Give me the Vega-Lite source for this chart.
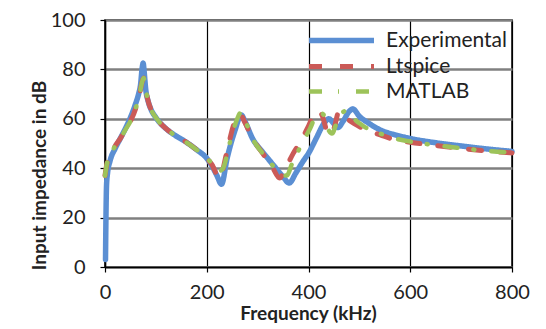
{
  "$schema": "https://vega.github.io/schema/vega-lite/v6.json",
  "width": 407,
  "height": 247,
  "autosize": {"type": "none"},
  "padding": {"left": 105, "top": 20, "right": 34, "bottom": 62},
  "background": "#ffffff",
  "config": {
    "font": "Lato",
    "view": {"stroke": "#000000", "strokeWidth": 1.5},
    "axis": {"labelFont": "Lato", "titleFont": "Lato", "labelColor": "#222222", "titleColor": "#222222"}
  },
  "data": {
    "values": [
      {"series": "Experimental", "f": 1, "v": 3}, {"series": "Experimental", "f": 2, "v": 22}, {"series": "Experimental", "f": 3, "v": 33},
      {"series": "Experimental", "f": 5, "v": 38}, {"series": "Experimental", "f": 10, "v": 43}, {"series": "Experimental", "f": 20, "v": 48},
      {"series": "Experimental", "f": 30, "v": 52}, {"series": "Experimental", "f": 40, "v": 56}, {"series": "Experimental", "f": 50, "v": 60.5},
      {"series": "Experimental", "f": 60, "v": 66}, {"series": "Experimental", "f": 66, "v": 70}, {"series": "Experimental", "f": 70, "v": 74},
      {"series": "Experimental", "f": 73, "v": 80.5}, {"series": "Experimental", "f": 75, "v": 82.5}, {"series": "Experimental", "f": 77, "v": 79},
      {"series": "Experimental", "f": 80, "v": 72}, {"series": "Experimental", "f": 85, "v": 67}, {"series": "Experimental", "f": 90, "v": 64},
      {"series": "Experimental", "f": 100, "v": 60.5}, {"series": "Experimental", "f": 120, "v": 56}, {"series": "Experimental", "f": 140, "v": 53},
      {"series": "Experimental", "f": 160, "v": 50.5}, {"series": "Experimental", "f": 180, "v": 47.5}, {"series": "Experimental", "f": 200, "v": 44},
      {"series": "Experimental", "f": 210, "v": 41}, {"series": "Experimental", "f": 220, "v": 37}, {"series": "Experimental", "f": 229, "v": 33.5},
      {"series": "Experimental", "f": 240, "v": 44}, {"series": "Experimental", "f": 255, "v": 55}, {"series": "Experimental", "f": 268, "v": 61.5},
      {"series": "Experimental", "f": 275, "v": 59}, {"series": "Experimental", "f": 290, "v": 52}, {"series": "Experimental", "f": 310, "v": 46.5},
      {"series": "Experimental", "f": 330, "v": 41.5}, {"series": "Experimental", "f": 350, "v": 36.5}, {"series": "Experimental", "f": 362, "v": 34},
      {"series": "Experimental", "f": 375, "v": 38}, {"series": "Experimental", "f": 390, "v": 43}, {"series": "Experimental", "f": 400, "v": 46},
      {"series": "Experimental", "f": 415, "v": 52}, {"series": "Experimental", "f": 430, "v": 58}, {"series": "Experimental", "f": 440, "v": 60},
      {"series": "Experimental", "f": 450, "v": 58}, {"series": "Experimental", "f": 458, "v": 56.5}, {"series": "Experimental", "f": 468, "v": 59},
      {"series": "Experimental", "f": 480, "v": 63}, {"series": "Experimental", "f": 487, "v": 64}, {"series": "Experimental", "f": 500, "v": 61},
      {"series": "Experimental", "f": 520, "v": 58}, {"series": "Experimental", "f": 541, "v": 55.5}, {"series": "Experimental", "f": 570, "v": 53.5},
      {"series": "Experimental", "f": 600, "v": 52}, {"series": "Experimental", "f": 650, "v": 50.3}, {"series": "Experimental", "f": 700, "v": 49},
      {"series": "Experimental", "f": 750, "v": 47.8}, {"series": "Experimental", "f": 800, "v": 46.8},

      {"series": "Ltspice", "f": 0, "v": 37}, {"series": "Ltspice", "f": 3, "v": 41}, {"series": "Ltspice", "f": 10, "v": 45},
      {"series": "Ltspice", "f": 20, "v": 49}, {"series": "Ltspice", "f": 30, "v": 52}, {"series": "Ltspice", "f": 40, "v": 55.5},
      {"series": "Ltspice", "f": 50, "v": 59}, {"series": "Ltspice", "f": 60, "v": 64}, {"series": "Ltspice", "f": 68, "v": 70},
      {"series": "Ltspice", "f": 73, "v": 75}, {"series": "Ltspice", "f": 76, "v": 76.5}, {"series": "Ltspice", "f": 79, "v": 73},
      {"series": "Ltspice", "f": 85, "v": 67}, {"series": "Ltspice", "f": 90, "v": 64}, {"series": "Ltspice", "f": 100, "v": 60.5},
      {"series": "Ltspice", "f": 120, "v": 56}, {"series": "Ltspice", "f": 140, "v": 53}, {"series": "Ltspice", "f": 160, "v": 50.5},
      {"series": "Ltspice", "f": 180, "v": 47.5}, {"series": "Ltspice", "f": 200, "v": 44}, {"series": "Ltspice", "f": 210, "v": 41.5},
      {"series": "Ltspice", "f": 225, "v": 36}, {"series": "Ltspice", "f": 240, "v": 47}, {"series": "Ltspice", "f": 252, "v": 57},
      {"series": "Ltspice", "f": 265, "v": 62}, {"series": "Ltspice", "f": 275, "v": 58.5}, {"series": "Ltspice", "f": 290, "v": 52},
      {"series": "Ltspice", "f": 310, "v": 46}, {"series": "Ltspice", "f": 330, "v": 40}, {"series": "Ltspice", "f": 343, "v": 36},
      {"series": "Ltspice", "f": 355, "v": 40}, {"series": "Ltspice", "f": 370, "v": 46}, {"series": "Ltspice", "f": 385, "v": 51},
      {"series": "Ltspice", "f": 400, "v": 57}, {"series": "Ltspice", "f": 415, "v": 63}, {"series": "Ltspice", "f": 425, "v": 62},
      {"series": "Ltspice", "f": 440, "v": 53.5}, {"series": "Ltspice", "f": 450, "v": 56}, {"series": "Ltspice", "f": 460, "v": 63},
      {"series": "Ltspice", "f": 470, "v": 61}, {"series": "Ltspice", "f": 490, "v": 58}, {"series": "Ltspice", "f": 520, "v": 55},
      {"series": "Ltspice", "f": 541, "v": 53.5}, {"series": "Ltspice", "f": 570, "v": 51.5}, {"series": "Ltspice", "f": 600, "v": 50.5},
      {"series": "Ltspice", "f": 650, "v": 49.2}, {"series": "Ltspice", "f": 700, "v": 48}, {"series": "Ltspice", "f": 750, "v": 47},
      {"series": "Ltspice", "f": 800, "v": 46.2},

      {"series": "MATLAB", "f": 0, "v": 37}, {"series": "MATLAB", "f": 3, "v": 41}, {"series": "MATLAB", "f": 10, "v": 45},
      {"series": "MATLAB", "f": 20, "v": 49}, {"series": "MATLAB", "f": 30, "v": 52}, {"series": "MATLAB", "f": 40, "v": 55.5},
      {"series": "MATLAB", "f": 50, "v": 59}, {"series": "MATLAB", "f": 60, "v": 64}, {"series": "MATLAB", "f": 68, "v": 70},
      {"series": "MATLAB", "f": 73, "v": 75}, {"series": "MATLAB", "f": 76, "v": 76.5}, {"series": "MATLAB", "f": 79, "v": 73},
      {"series": "MATLAB", "f": 85, "v": 67}, {"series": "MATLAB", "f": 90, "v": 64}, {"series": "MATLAB", "f": 100, "v": 60.5},
      {"series": "MATLAB", "f": 120, "v": 56}, {"series": "MATLAB", "f": 140, "v": 53}, {"series": "MATLAB", "f": 160, "v": 50.5},
      {"series": "MATLAB", "f": 180, "v": 47.5}, {"series": "MATLAB", "f": 200, "v": 44}, {"series": "MATLAB", "f": 210, "v": 42},
      {"series": "MATLAB", "f": 222, "v": 38.5}, {"series": "MATLAB", "f": 232, "v": 40}, {"series": "MATLAB", "f": 245, "v": 50},
      {"series": "MATLAB", "f": 258, "v": 59}, {"series": "MATLAB", "f": 267, "v": 62.5}, {"series": "MATLAB", "f": 278, "v": 58},
      {"series": "MATLAB", "f": 290, "v": 52}, {"series": "MATLAB", "f": 310, "v": 46}, {"series": "MATLAB", "f": 330, "v": 41},
      {"series": "MATLAB", "f": 345, "v": 37.5}, {"series": "MATLAB", "f": 357, "v": 37}, {"series": "MATLAB", "f": 368, "v": 42},
      {"series": "MATLAB", "f": 385, "v": 49}, {"series": "MATLAB", "f": 403, "v": 56}, {"series": "MATLAB", "f": 418, "v": 62},
      {"series": "MATLAB", "f": 428, "v": 62}, {"series": "MATLAB", "f": 438, "v": 56}, {"series": "MATLAB", "f": 446, "v": 54},
      {"series": "MATLAB", "f": 458, "v": 60}, {"series": "MATLAB", "f": 470, "v": 63}, {"series": "MATLAB", "f": 478, "v": 63.5},
      {"series": "MATLAB", "f": 490, "v": 60}, {"series": "MATLAB", "f": 505, "v": 57.5}, {"series": "MATLAB", "f": 520, "v": 55.5},
      {"series": "MATLAB", "f": 541, "v": 54}, {"series": "MATLAB", "f": 570, "v": 52}, {"series": "MATLAB", "f": 600, "v": 50.8},
      {"series": "MATLAB", "f": 650, "v": 49.3}, {"series": "MATLAB", "f": 700, "v": 48.1}, {"series": "MATLAB", "f": 750, "v": 47},
      {"series": "MATLAB", "f": 800, "v": 46.3}
    ]
  },
  "mark": {"type": "line", "interpolate": "monotone", "strokeCap": "round", "strokeJoin": "round"},
  "encoding": {
    "x": {
      "field": "f", "type": "quantitative",
      "scale": {"domain": [0, 800], "nice": false},
      "axis": {
        "values": [0, 200, 400, 600, 800], "title": "Frequency (kHz)",
        "grid": true, "gridColor": "#000000", "gridWidth": 1.2, "gridOpacity": 1,
        "domainColor": "#000000", "domainWidth": 1.5, "tickColor": "#000000", "tickSize": 5, "tickWidth": 1.2,
        "labelFontSize": 20, "labelPadding": 10, "labelFlush": false,
        "titleFontSize": 19, "titleFontWeight": "bold", "titleX": 203, "titleY": 46, "titleBaseline": "middle"
      }
    },
    "y": {
      "field": "v", "type": "quantitative",
      "scale": {"domain": [0, 100], "nice": false},
      "axis": {
        "values": [0, 20, 40, 60, 80, 100], "title": "Input impedance in dB",
        "grid": true, "gridColor": "#808080", "gridWidth": 2.5, "gridOpacity": 1,
        "domainColor": "#000000", "domainWidth": 1.5, "tickColor": "#000000", "tickSize": 5, "tickWidth": 1.2,
        "labelFontSize": 20, "labelPadding": 15,
        "titleFontSize": 19, "titleFontWeight": "bold", "titleX": -66, "titleY": 155, "titleBaseline": "middle", "titleAngle": -90, "titleAlign": "center"
      }
    },
    "color": {
      "field": "series", "type": "nominal",
      "scale": {"domain": ["Experimental", "Ltspice", "MATLAB"], "range": ["#5B8FD3", "#CB5A57", "#9DC35A"]},
      "legend": {
        "title": null, "orient": "none", "legendX": 226, "legendY": 10, "padding": 0,
        "symbolType": "M-5,0H5", "symbolSize": 169, "symbolStrokeWidth": 5, "symbolOpacity": 1,
        "labelFontSize": 21, "labelColor": "#222222", "labelOffset": 34, "rowPadding": 3, "labelFont": "Lato"
      }
    },
    "strokeDash": {
      "field": "series", "type": "nominal",
      "scale": {"domain": ["Experimental", "Ltspice", "MATLAB"], "range": [[1, 0], [13, 18], [13, 16, 1, 17]]},
      "legend": {
        "title": null, "orient": "none", "legendX": 226, "legendY": 10, "padding": 0,
        "symbolType": "M-5,0H5", "symbolSize": 169, "symbolStrokeWidth": 5,
        "labelFontSize": 21, "labelColor": "#222222", "labelOffset": 34, "rowPadding": 3, "labelFont": "Lato"
      }
    },
    "strokeWidth": {
      "field": "series", "type": "nominal",
      "scale": {"domain": ["Experimental", "Ltspice", "MATLAB"], "range": [5.5, 4.5, 4.5]},
      "legend": null
    }
  }
}
